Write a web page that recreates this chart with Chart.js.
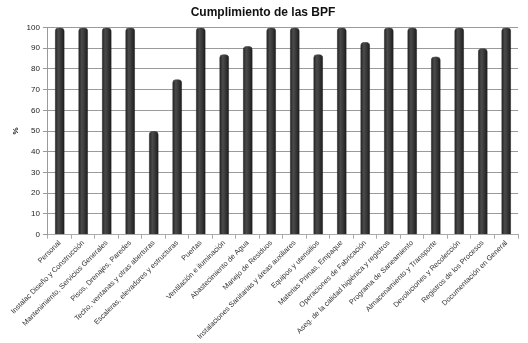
<!DOCTYPE html>
<html lang="es">
<head>
<meta charset="UTF-8" />
<title>Cumplimiento de las BPF</title>
<script src="https://cdn.jsdelivr.net/npm/chart.js@4"></script>
<style>
  html, body { margin: 0; padding: 0; background: #fff; }
  #wrap { width: 528px; height: 343px; }
</style>
</head>
<body>
<div id="wrap"><canvas id="myChart" width="528" height="343"></canvas></div>
<script>
  // Data
  const categories = [
    "Personal",
    "Instalac Diseño y Construcción",
    "Mantenimiento, Servicios Generales",
    "Pisos, Drenajes, Paredes",
    "Techo, ventanas y otras aberturas",
    "Escaleras, elevadores y estructuras",
    "Puertas",
    "Ventilación e iluminación",
    "Abastecimiento de Agua",
    "Manejo de Residuos",
    "Instalaciones Sanitarias y áreas auxiliares",
    "Equipos y utensilios",
    "Materias Primas, Empaque",
    "Operaciones de Fabricación",
    "Aseg. de la calidad higiénica y registros",
    "Programa de Saneamiento",
    "Almacenamiento y Transporte",
    "Devoluciones y Recolección",
    "Registros de los Procesos",
    "Documentación en General"
  ];
  const cumplimiento = [100, 100, 100, 100, 50, 75, 100, 87, 91, 100, 100, 87, 100, 93, 100, 100, 86, 100, 90, 100];
  const yTicks = [0, 10, 20, 30, 40, 50, 60, 70, 80, 90, 100];

  // gives each bar its own cylinder-like shading
  const cylinderPlugin = {
    id: "cylinder",
    beforeDatasetsDraw(chart) {
      const ctx = chart.ctx;
      chart.getDatasetMeta(0).data.forEach(bar => {
        const half = bar.width / 2;
        const g = ctx.createLinearGradient(bar.x - half, 0, bar.x + half, 0);
        g.addColorStop(0, "#1c1c1c");
        g.addColorStop(0.35, "#4b4b4b");
        g.addColorStop(0.6, "#3a3a3a");
        g.addColorStop(1, "#181818");
        bar.options = Object.assign({}, bar.options, { backgroundColor: g });
      });
    }
  };

  new Chart(document.getElementById("myChart"), {
    type: "bar",
    data: {
      labels: categories,
      datasets: [{
        label: "%",
        data: cumplimiento,
        backgroundColor: () => "#333333",
        borderColor: "#222222",
        borderWidth: 0.5,
        borderRadius: { topLeft: 4, topRight: 4 },
        borderSkipped: "bottom",
        categoryPercentage: 1,
        barPercentage: 0.42
      }]
    },
    options: {
      responsive: false,
      animation: false,
      layout: { padding: { left: 8, right: 10, top: 2, bottom: 2 } },
      plugins: {
        legend: { display: false },
        tooltip: { enabled: false },
        title: {
          display: true,
          text: "Cumplimiento de las BPF",
          color: "#111",
          font: { family: "Liberation Sans", size: 12, weight: "bold" },
          padding: { top: 3, bottom: 8 }
        }
      },
      scales: {
        x: {
          grid: { display: true, drawOnChartArea: false, color: "#aaa", tickLength: 4 },
          border: { color: "#aaa" },
          ticks: {
            autoSkip: false,
            maxRotation: 45,
            minRotation: 45,
            padding: 0,
            color: "#333",
            font: { family: "Liberation Sans", size: 7.3 }
          }
        },
        y: {
          min: 0,
          max: 100,
          afterBuildTicks: axis => { axis.ticks = yTicks.map(v => ({ value: v })); },
          grid: { color: "#9a9a9a", tickLength: 5 },
          border: { color: "#9a9a9a" },
          ticks: {
            color: "#222",
            padding: 3,
            font: { family: "Liberation Sans", size: 8 }
          },
          title: {
            display: true,
            text: "%",
            color: "#222",
            padding: 3,
            font: { family: "Liberation Sans", size: 8, weight: "bold" }
          }
        }
      }
    },
    plugins: [cylinderPlugin]
  });
</script>
</body>
</html>
